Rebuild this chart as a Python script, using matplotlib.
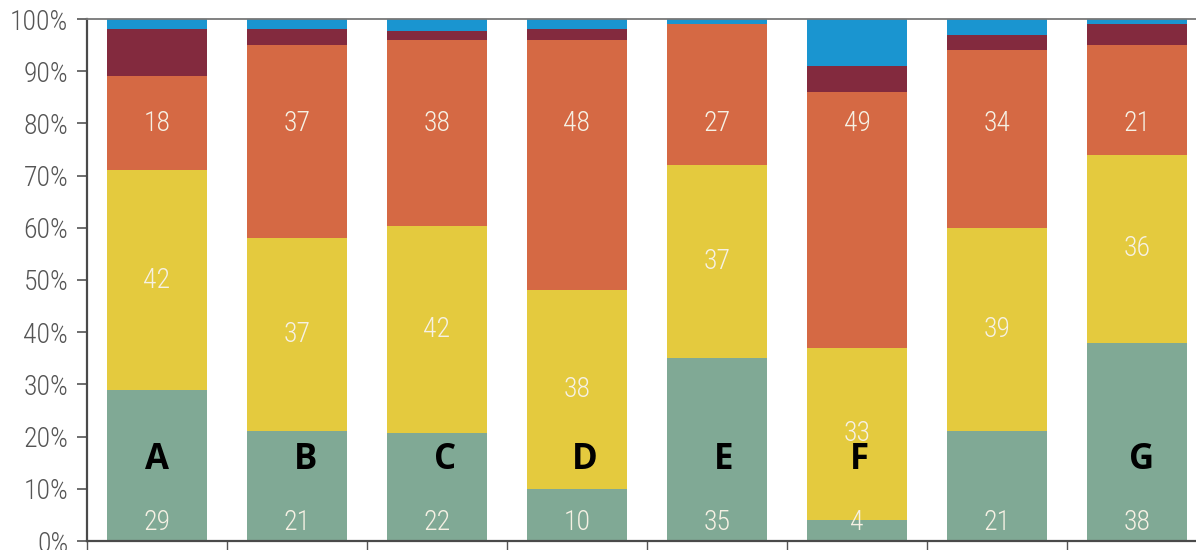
import matplotlib.pyplot as plt
import numpy as np
from matplotlib import font_manager

# survey shares per group, bottom to top
groups = ["A", "B", "C", "D", "E", "F", "", "G"]
green = [29, 21, 22, 10, 35, 4, 21, 38]
yellow = [42, 37, 42, 38, 37, 33, 39, 36]
orange = [18, 37, 38, 48, 27, 49, 34, 21]
darkred = [9, 3, 1.7, 2, 0, 5, 3, 4]
blue = [2, 2, 2.5, 2, 1, 9, 3, 1]

colors = ["#80a995", "#e4ca3e", "#d56944", "#832a3e", "#1a95d0"]
letter_shift = [0.0, 0.064, 0.057, 0.057, 0.05, 0.014, 0.0, 0.036]

# pick a narrow face for the numbers if one is around
fonts = font_manager.fontManager.ttflist
names = {f.name for f in fonts}
if "Liberation Sans Narrow" in names:
    narrow = dict(family="Liberation Sans Narrow")
elif "Roboto Condensed" in names:
    narrow = dict(family="Roboto Condensed", weight="light")
elif any(f.name == "DejaVu Sans" and f.stretch == "condensed" for f in fonts):
    narrow = dict(family="DejaVu Sans", stretch="condensed", weight="light")
else:
    narrow = dict(family="Roboto", weight="light")

series = np.array([green, yellow, orange, darkred, blue], dtype=float)
pct = series / series.sum(axis=0) * 100

fig = plt.figure(figsize=(11.96, 5.5), dpi=100)
ax = fig.add_axes([87 / 1196, 9 / 550, 1120 / 1196, 522 / 550])

x = np.arange(len(groups))
bottom = np.zeros(len(groups))
for row, c in zip(pct, colors):
    ax.bar(x, row, bottom=bottom, width=0.71, color=c, linewidth=0, zorder=2)
    bottom += row

num_font = dict(fontsize=20, color="#f6f1e4", ha="center", va="center",
                zorder=3, **narrow)
for i in x:
    ax.text(i, 3.6, f"{green[i]:g}", **num_font)
    ymid = pct[0, i] + pct[1, i] / 2
    ax.text(i, ymid, f"{yellow[i]:g}", **num_font)
    ax.text(i, 80, f"{orange[i]:g}", **num_font)
    if groups[i]:
        ax.text(i + letter_shift[i], 15.5, groups[i], family="Open Sans",
                fontweight="bold", fontsize=25, color="black",
                ha="center", va="center", zorder=4)

ax.set_xlim(-0.5, len(groups) - 0.5)
ax.set_ylim(0, 100)
ax.set_yticks(np.arange(0, 101, 10))
ax.set_yticklabels([f"{v}%" for v in range(0, 101, 10)], fontsize=20,
                   color="#555555", **narrow)
ax.tick_params(axis="y", length=7.5, width=1.2, color="#555555", pad=6)
ax.set_xticks([])
ax.set_xticks(np.arange(-0.5, len(groups), 1), minor=True)
ax.tick_params(axis="x", which="minor", length=12, width=1.0, color="#555555")

for s in ["left", "bottom"]:
    ax.spines[s].set_color("#4a4a4a")
    ax.spines[s].set_linewidth(1.6)
ax.spines["top"].set_color("#777777")
ax.spines["top"].set_linewidth(1.3)
ax.spines["right"].set_visible(False)

fig.savefig("out.png", dpi=100)
